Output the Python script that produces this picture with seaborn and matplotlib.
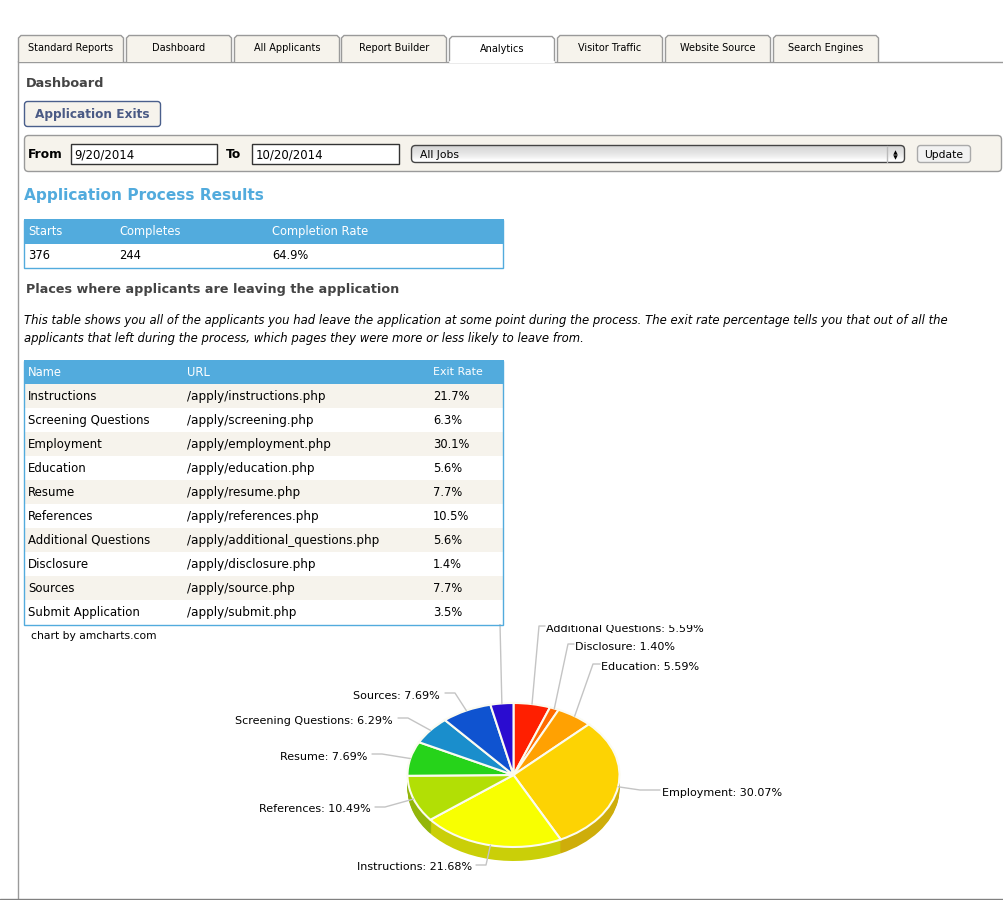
import numpy as np
import matplotlib
matplotlib.use("Agg")
import matplotlib.pyplot as plt
from matplotlib.patches import FancyBboxPatch, Rectangle, Polygon
from matplotlib.transforms import Bbox
import seaborn as sns

# ---------- data ----------
tabs = ["Standard Reports", "Dashboard", "All Applicants", "Report Builder", "Analytics",
        "Visitor Traffic", "Website Source", "Search Engines"]
summary_cols = ["Starts", "Completes", "Completion Rate"]
summary_vals = ["376", "244", "64.9%"]
names = ["Instructions", "Screening Questions", "Employment", "Education", "Resume",
         "References", "Additional Questions", "Disclosure", "Sources", "Submit Application"]
urls = ["/apply/instructions.php", "/apply/screening.php", "/apply/employment.php",
        "/apply/education.php", "/apply/resume.php", "/apply/references.php",
        "/apply/additional_questions.php", "/apply/disclosure.php", "/apply/source.php",
        "/apply/submit.php"]
exit_rates = ["21.7%", "6.3%", "30.1%", "5.6%", "7.7%", "10.5%", "5.6%", "1.4%", "7.7%", "3.5%"]

pie_names = ["Additional Questions", "Disclosure", "Education", "Employment", "Instructions",
             "References", "Resume", "Screening Questions", "Sources", "Submit Application"]
pie_values = [5.59, 1.40, 5.59, 30.07, 21.68, 10.49, 7.69, 6.29, 7.69, 3.50]
pie_colors = ["#FF1F00", "#FF6A00", "#FFA102", "#FDD303", "#F8FF01",
              "#B2DF05", "#26D31A", "#1A8ECC", "#0F53D0", "#2A0CD0"]

# ---------- layout (pixels) ----------
W, H = 1004, 900
BLUE, CREAM = "#52ABDD", "#F6F3EC"
GREY = "#9A9A9A"
PX = 12 * 0.72  # 12 px text in points at dpi 100
CX, CY, RX, RY, DEPTH = 513.5, 775.0, 106.0, 72.0, 14
tab_x = [18, 126, 234, 341, 449, 557, 665, 773]
tab_w = 106
label_pos = {  # text anchor x, y, ha, elbow x, elbow y, line end x
    "Additional Questions": (546, 627.5, "left", 539, 626, 545),
    "Disclosure": (575, 645.5, "left", 568, 644, 574),
    "Education": (601, 665.5, "left", 593, 664, 600),
    "Employment": (662, 791.5, "left", 640, 790, 660),
    "Instructions": (472, 865.5, "right", 486, 865, 476),
    "References": (371, 807.5, "right", 385, 807, 375),
    "Resume": (367, 755.5, "right", 382, 754, 372),
    "Screening Questions": (393, 719.5, "right", 408, 718, 398),
    "Sources": (440, 694.5, "right", 455, 693, 445),
}

sns.set_theme(style="white", rc={"axes.edgecolor": "none"})
plt.rcParams["font.family"] = ["DejaVu Sans"]

fig = plt.figure(figsize=(W / 100, H / 100), dpi=100, facecolor="white")

# pie axes (ellipse: axes are stretched to the pixel size of the pie)
lim = 1.0
pie_ax = fig.add_axes([(CX - RX) / W, 1 - (CY + RY) / H, 2 * RX / W, 2 * RY / H])
pie_ax.set_zorder(1)
dark = [sns.dark_palette(c, 10)[7] for c in pie_colors]
for off in np.arange(DEPTH, 0, -1):
    pie_ax.pie(pie_values, colors=dark, startangle=90, counterclock=False,
               center=(0, -off / RY), radius=1, wedgeprops={"linewidth": 0, "clip_on": False})
pie_ax.pie(pie_values, colors=pie_colors, startangle=90, counterclock=False, radius=1,
           wedgeprops={"linewidth": 1.5, "edgecolor": "#FBFBF0", "clip_on": False})
pie_ax.set_aspect("auto")
pie_ax.set_xlim(-lim, lim)
pie_ax.set_ylim(-lim, lim)
pie_ax.axis("off")

# page overlay in pixel coordinates
ax = fig.add_axes([0, 0, 1, 1], facecolor="none")
ax.axis("off")
ax.set_zorder(2)


def T(x, y, s, size=PX, color="black", weight="normal", style="normal", ha="left", **kw):
    # y is the visual middle of the capitals; all text sits on a baseline so rows stay level
    return ax.text(x, y + 0.36 * size / 0.72, s, fontsize=size, color=color, fontweight=weight,
                   fontstyle=style, ha=ha, va="baseline", **kw)


def box(x, y, w, h, fc, ec, r=3, lw=1.0, z=2):
    p = FancyBboxPatch((x + r, y + r), w - 2 * r, h - 2 * r,
                       boxstyle=f"round,pad={r},rounding_size={r}",
                       fc=fc, ec=ec, lw=lw, zorder=z, mutation_aspect=1)
    ax.add_patch(p)
    return p


# frame lines
ax.plot([18, W], [61.5, 61.5], color=GREY, lw=1, zorder=1)
ax.plot([18.5, 18.5], [61, H], color=GREY, lw=1, zorder=1)
ax.plot([0, W], [899, 899], color="#808080", lw=1, zorder=1)

# tabs
for x, t in zip(tab_x, tabs):
    active = t == "Analytics"
    top = 36 if active else 35
    fc = "white" if active else CREAM
    ax.add_patch(Polygon([[x + .5, 62], [x + .5, top + 3], [x + 3, top + .5], [x + tab_w - 3, top + .5],
                          [x + tab_w - .5, top + 3], [x + tab_w - .5, 62]],
                         closed=False, fc=fc, ec=GREY, lw=1, zorder=3))
    if active:
        ax.plot([x + 1, x + tab_w - 1], [61.5, 61.5], color="white", lw=1.5, zorder=4)
    T(x + tab_w / 2, 48 + (1 if active else 0), t, size=PX * .81, ha="center", zorder=5)

# headings
T(26, 82, "Dashboard", size=PX * 1.07, color="#444444", weight="bold")
box(24.5, 101.5, 136, 25, CREAM, "#4A5F8C", r=3)
T(35, 113.5, "Application Exits", size=PX * 1.01, color="#4A5A85", weight="bold", zorder=5)

# filter bar
box(24.5, 135.5, 977, 36, CREAM, GREY, r=4)
T(28, 153.5, "From", size=PX * 1.02, weight="bold", zorder=5)
T(226, 153.5, "To", size=PX * 1.02, weight="bold", zorder=5)
for x, w, s in [(71.5, 146, "9/20/2014"), (252.5, 147, "10/20/2014")]:
    ax.add_patch(Rectangle((x, 143.5), w, 20, fc="white", ec="#333333", lw=1, zorder=4))
    T(x + 3, 154, s, size=PX * .98, zorder=5)
sel = box(411.5, 145.5, 493, 17, "white", "none", r=4, z=4)
grad = ax.imshow(np.array([[.84], [.87], [.90], [.94], [1.0]]), cmap="gray", vmin=0, vmax=1, aspect="auto",
                 extent=(411.5, 904.5, 162.5, 145.5), zorder=4.1, interpolation="bilinear")
grad.set_clip_path(sel)
box(411.5, 145.5, 493, 17, "none", "#444444", r=4, z=4.2)
T(420, 154.5, "All Jobs", size=PX * .9, zorder=5)
ax.plot([887.5, 887.5], [146, 162], color="#BBBBBB", lw=1, zorder=5)
ax.plot([895.5], [151.5], marker="^", ms=3.2, color="black", mew=0, zorder=5)
ax.plot([895.5], [157], marker="v", ms=3.2, color="black", mew=0, zorder=5)
box(917.5, 145.5, 53, 17, "#F2F2F2", "#AAAAAA", r=3, z=4)
T(944, 154.5, "Update", size=PX * .9, ha="center", zorder=5)

T(24, 194, "Application Process Results", size=PX * 1.28, color=BLUE, weight="bold")

# summary table
sum_x = [28, 119, 272]
ax.add_patch(Rectangle((24, 219), 480, 24.5, fc=BLUE, ec="none", zorder=2))
ax.add_patch(Rectangle((24.5, 219.5), 479, 48, fc="none", ec=BLUE, lw=1, zorder=3))
for x, c, v in zip(sum_x, summary_cols, summary_vals):
    T(x, 230.5, c, size=PX * .96, color="white", zorder=4)
    T(x, 254.5, v, size=PX * .96, zorder=4)

T(26, 288, "Places where applicants are leaving the application", size=PX * 1.067,
  color="#444444", weight="bold")
T(24, 319.5, "This table shows you all of the applicants you had leave the application at some point "
             "during the process. The exit rate percentage tells you that out of all the",
  size=PX * .965, style="italic")
T(24, 337.5, "applicants that left during the process, which pages they were more or less likely "
             "to leave from.", size=PX * .965, style="italic")

# exit table
row_h, top = 24, 384
col_x = [28, 187, 433]
col_size = [PX * .985, PX * 1.0, PX * .96]
ax.add_patch(Rectangle((24, 360), 480, 24.5, fc=BLUE, ec="none", zorder=2))
for x, c, s in zip(col_x, ["Name", "URL", "Exit Rate"], [.96, .96, .92]):
    T(x, 371.5, c, size=PX * s, color="white", zorder=4)
for i, (n, u, r) in enumerate(zip(names, urls, exit_rates)):
    y = top + i * row_h
    ax.add_patch(Rectangle((24.5, y), 479, row_h, fc=CREAM if i % 2 == 0 else "white", ec="none", zorder=2))
    for x, s, fs in zip(col_x, [n, u, r], col_size):
        T(x, y + 11.5, s, size=fs, zorder=4)
ax.add_patch(Rectangle((24.5, 360.5), 479, 264, fc="none", ec=BLUE, lw=1, zorder=3))

T(31, 635.5, "chart by amcharts.com", size=PX * .9, zorder=4)

# pie labels with leader lines from each slice's rim
LINE = "#C4C4C4"
clip = Bbox([[0, 0], [W, H - 624.5]])  # labels are cut off under the top of the chart area
mids = (np.cumsum(pie_values) - np.array(pie_values) / 2) / np.sum(pie_values) * 2 * np.pi
for name, val, th in zip(pie_names, pie_values, mids):
    rx, ry = CX + RX * np.sin(th), CY - RY * np.cos(th)
    if name in label_pos:
        tx, ty, ha, ex, ey, lx = label_pos[name]
        ax.plot([rx, ex, lx], [ry, ey, ey], color=LINE, lw=1, zorder=1.5)
        t = T(tx, ty, f"{name}: {val:.2f}%", size=PX * .93, ha=ha, zorder=4)
        t.set_clip_on(True)
        t.set_clip_box(clip)
    else:  # the last slice's label is hidden behind the table
        ax.plot([rx, 500], [ry, 624], color=LINE, lw=1, zorder=1.5)

ax.set_xlim(0, W)
ax.set_ylim(H, 0)
fig.savefig("out.png", dpi=100)
